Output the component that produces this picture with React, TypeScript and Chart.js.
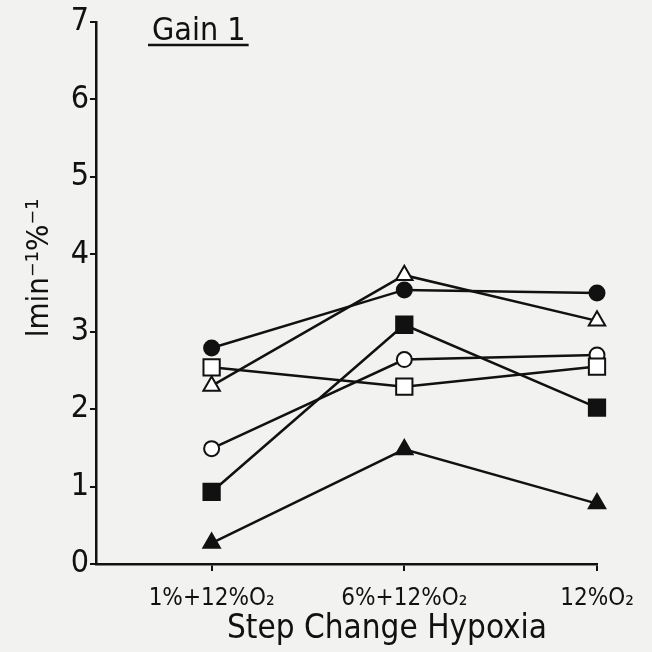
import React, { useEffect, useRef } from "react";
import { Chart, registerables } from "chart.js";

Chart.register(...registerables);

// Step-change hypoxia protocols (x positions 0, 1, 2)
const conditions = ["1%+12%O₂", "6%+12%O₂", "12%O₂"];
const yTicks = [0, 1, 2, 3, 4, 5, 6, 7];

// Gain 1 per subject, l·min⁻¹·%⁻¹
const filledCircle = [2.79, 3.54, 3.5];
const openTriangle = [2.3, 3.73, 3.14];
const openSquare = [2.54, 2.29, 2.55];
const openCircle = [1.49, 2.64, 2.7];
const filledSquare = [0.93, 3.09, 2.02];
const filledTriangle = [0.27, 1.48, 0.78];

const FONT = "'Liberation Sans Narrow', 'DejaVu Sans Condensed', 'Roboto', sans-serif";
const INK = "#111";
const PAPER = "#f2f2f0";

const toPoints = (vals: number[]) => vals.map((y, i) => ({ x: i, y }));

const series = [
  { values: filledCircle, style: "circle", filled: true, radius: 7.5 },
  { values: openTriangle, style: "triangle", filled: false, radius: 9.5 },
  { values: openSquare, style: "rect", filled: false, radius: 11.5 },
  { values: openCircle, style: "circle", filled: false, radius: 7.5 },
  { values: filledSquare, style: "rect", filled: true, radius: 11.5 },
  { values: filledTriangle, style: "triangle", filled: true, radius: 9.5 },
];

const annotations = {
  id: "annotations",
  afterDraw(chart: any) {
    const ctx = chart.ctx;
    ctx.save();
    ctx.fillStyle = INK;
    ctx.strokeStyle = INK;
    // panel label, underlined
    ctx.font = `32px ${FONT}`;
    ctx.textAlign = "left";
    ctx.textBaseline = "alphabetic";
    const label = "Gain 1";
    ctx.fillText(label, 152, 40);
    const w = ctx.measureText(label).width;
    ctx.lineWidth = 2.5;
    ctx.beginPath();
    ctx.moveTo(148, 45);
    ctx.lineTo(152 + w + 3, 45);
    ctx.stroke();
    // x axis title
    ctx.font = `33px ${FONT}`;
    ctx.textAlign = "center";
    ctx.fillText("Step Change Hypoxia", 387, 638);
    // y axis unit, rotated
    ctx.translate(40, 268);
    ctx.rotate(-Math.PI / 2);
    ctx.textAlign = "center";
    ctx.textBaseline = "middle";
    ctx.font = `31px ${FONT}`;
    ctx.fillText("lmin⁻¹%⁻¹", 0, 0);
    ctx.restore();
  },
};

export default function App() {
  const ref = useRef<HTMLCanvasElement>(null);

  useEffect(() => {
    if (!ref.current) return;
    const chart = new Chart(ref.current, {
      type: "scatter",
      data: {
        datasets: series.map((s) => ({
          data: toPoints(s.values),
          showLine: true,
          clip: false as any,
          borderColor: INK,
          borderWidth: 2.5,
          pointStyle: s.style as any,
          pointRadius: s.radius,
          pointBorderWidth: 2,
          pointBorderColor: INK,
          pointBackgroundColor: s.filled ? INK : "#fff",
          pointHoverRadius: s.radius,
        })),
      },
      plugins: [
        annotations,
        {
          id: "paper",
          beforeDraw(c: any) {
            const ctx = c.ctx;
            ctx.save();
            ctx.fillStyle = PAPER;
            ctx.fillRect(0, 0, c.width, c.height);
            ctx.restore();
          },
        },
      ],
      options: {
        animation: false,
        responsive: false,
        events: [],
        layout: { padding: { top: 22, right: 55, left: 0, bottom: 0 } },
        plugins: { legend: { display: false }, tooltip: { enabled: false } },
        scales: {
          x: {
            type: "linear",
            min: -0.6,
            max: 2,
            afterFit: (s: any) => {
              s.height = 88;
            },
            afterBuildTicks: (s: any) => {
              s.ticks = conditions.map((_, i) => ({ value: i }));
            },
            grid: {
              display: true,
              drawOnChartArea: false,
              drawTicks: true,
              tickLength: 7,
              color: INK,
              lineWidth: 2,
            },
            border: { display: true, color: INK, width: 2.5 },
            ticks: {
              color: INK,
              font: { family: FONT, size: 24 },
              padding: 13,
              maxRotation: 0,
              autoSkip: false,
              callback: (v: any) => conditions[v as number] ?? "",
            },
          },
          y: {
            min: 0,
            max: 7,
            afterFit: (s: any) => {
              s.width = 96;
            },
            afterBuildTicks: (s: any) => {
              s.ticks = yTicks.map((v) => ({ value: v }));
            },
            grid: {
              display: true,
              drawOnChartArea: false,
              drawTicks: true,
              tickLength: 6,
              color: INK,
              lineWidth: 2,
            },
            border: { display: true, color: INK, width: 2.5 },
            ticks: {
              color: INK,
              font: { family: FONT, size: 32 },
              padding: 1,
            },
          },
        },
      },
    });
    return () => chart.destroy();
  }, []);

  return (
    <div style={{ position: "fixed", left: 0, top: 0, width: 652, height: 652, background: PAPER }}>
      <canvas ref={ref} width={652} height={652} style={{ width: 652, height: 652 }} />
    </div>
  );
}
